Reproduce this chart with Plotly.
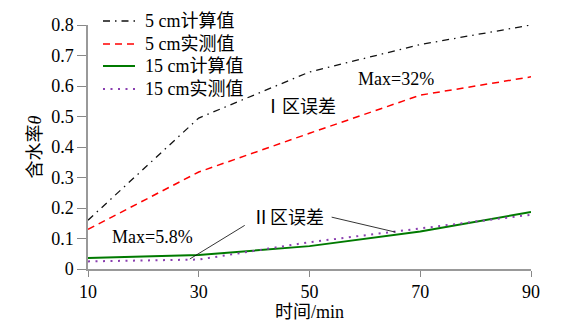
import plotly.graph_objects as go

time_min = [10, 30, 50, 70, 90]
calc_5cm = [0.16, 0.495, 0.646, 0.736, 0.80]
meas_5cm = [0.13, 0.318, 0.445, 0.57, 0.63]
calc_15cm = [0.036, 0.046, 0.075, 0.123, 0.187]
meas_15cm = [0.025, 0.031, 0.088, 0.133, 0.178]

series_names = ["5 cm计算值", "5 cm实测值", "15 cm计算值", "15 cm实测值"]
series_colors = ["#111111", "#ff0000", "#007a00", "#8a3fb0"]
series_dash = ["7px,5px,1.5px,5px", "7px,5px", "solid", "2px,5.5px"]
series_width = [1.3, 1.5, 2.0, 2.0]

x_ticks = [10, 30, 50, 70, 90]
y_ticks = [0, 0.1, 0.2, 0.3, 0.4, 0.5, 0.6, 0.7, 0.8]
y_ticktext = ["0", "0.1", "0.2", "0.3", "0.4", "0.5", "0.6", "0.7", "0.8"]

FONT = "Liberation Serif, Noto Sans CJK SC, serif"
W, H = 568, 325
L, R, T, B = 88, 37, 25, 56

def px_x(px):
    return (px - L) / (W - L - R)

def px_y(py):
    return (H - B - py) / (H - T - B)

fig = go.Figure()
for ys, nm, c, d, w in zip([calc_5cm, meas_5cm, calc_15cm, meas_15cm],
                           series_names, series_colors, series_dash, series_width):
    fig.add_trace(go.Scatter(x=time_min, y=ys, mode="lines", name=nm,
                             line=dict(color=c, width=w, dash=d), showlegend=False))

# manual legend (compact row spacing like the reference)
leg_rows = [21, 44, 66, 89]
for nm, c, d, w, ry in zip(series_names, series_colors, series_dash, series_width, leg_rows):
    fig.add_shape(type="line", xref="paper", yref="paper",
                  x0=px_x(103), x1=px_x(135), y0=px_y(ry), y1=px_y(ry),
                  line=dict(color=c, width=w, dash=d))
    fig.add_annotation(x=px_x(143), y=px_y(ry), xref="paper", yref="paper",
                       xanchor="left", yanchor="middle", text=nm, showarrow=False,
                       font=dict(family=FONT, size=18, color="black"))

ann_font = dict(family=FONT, size=18, color="black")
fig.add_annotation(x=65.6, y=0.623, xref="x", yref="y", text="Max=32%", showarrow=False, font=ann_font)
fig.add_annotation(x=48.3, y=0.531, xref="x", yref="y", text="Ⅰ区误差", showarrow=False, font=ann_font)
fig.add_annotation(x=21.6, y=0.105, xref="x", yref="y", text="Max=5.8%", showarrow=False, font=ann_font)
fig.add_annotation(x=46.1, y=0.168, xref="x", yref="y", text="Ⅱ区误差", showarrow=False, font=ann_font)

# leader lines
fig.add_shape(type="line", xref="x", yref="y", x0=28.4, y0=0.033, x1=38.3, y1=0.143,
              line=dict(color="black", width=0.8))
fig.add_shape(type="line", xref="x", yref="y", x0=54.0, y0=0.170, x1=65.5, y1=0.121,
              line=dict(color="black", width=0.8))

fig.update_layout(
    width=W, height=H,
    margin=dict(l=L, r=R, t=T, b=B, autoexpand=False),
    paper_bgcolor="white", plot_bgcolor="white",
    font=dict(family=FONT, size=18, color="black"),
    showlegend=False,
)
fig.update_xaxes(range=[10, 90], tickvals=x_ticks, showgrid=False, zeroline=False,
                 showline=True, linecolor="#999999", linewidth=1.5, automargin=False,
                 ticks="outside", ticklen=6, tickcolor="#888888", tickwidth=1.2,
                 tickfont=dict(family=FONT, size=18),
                 title=dict(text="时间/min", font=dict(family=FONT, size=18), standoff=1))
fig.update_yaxes(range=[0, 0.8], tickvals=y_ticks, ticktext=y_ticktext, showgrid=False, zeroline=False,
                 showline=True, linecolor="#999999", linewidth=1.5, automargin=False,
                 ticks="outside", ticklen=9, tickcolor="#888888", tickwidth=1.2,
                 tickfont=dict(family=FONT, size=18),
                 title=dict(text="含水率<i>θ</i>", font=dict(family=FONT, size=18), standoff=5))

fig.write_html("out.html")
